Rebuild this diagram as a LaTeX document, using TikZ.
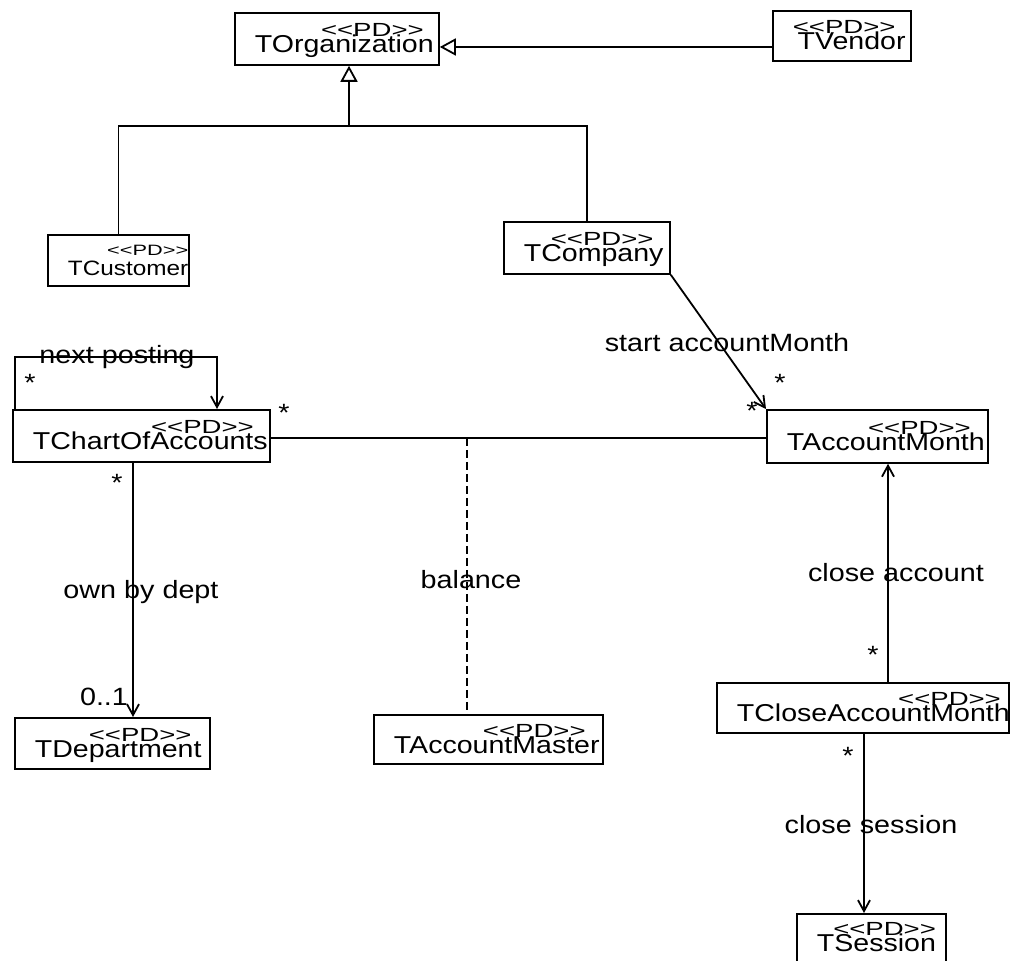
\documentclass[tikz,border=0pt]{standalone}
\usepackage{fontspec}
\setmainfont{Liberation Sans}
\newfontfamily\classfont[FakeStretch=1.17]{Liberation Sans}
\newfontfamily\sterfont[FakeStretch=1.45]{Liberation Sans}
\newfontfamily\labelfont[FakeStretch=1.15]{Liberation Sans}
\usetikzlibrary{arrows.meta}
\newcommand{\pd}[2][5pt]{\begin{tabular}{@{}r@{}}{\sterfont\fontsize{9.5}{11}\selectfont<\kern0pt<PD>\kern0pt>}\kern#1\\[-6.6pt]#2\end{tabular}}

\begin{document}
\begin{tikzpicture}[x=0.5pt,y=-0.5pt,
  pdbox/.style={draw,line width=0.9pt,inner ysep=0pt,inner xsep=10pt,align=left,anchor=north west,font=\classfont\fontsize{12.2}{14.6}\selectfont},
  line/.style={line width=0.9pt},
  nav/.style={line,-{Straight Barb[length=5.5pt,width=6pt]}},
  gen/.style={line,-{Triangle[open,length=8pt,width=8.5pt]}},
  lbl/.style={font=\labelfont\fontsize{12.5}{15}\selectfont,inner sep=0pt},
  mult/.style={lbl,anchor=base}]
\useasboundingbox (0,0) rectangle (1018,961);
%classes
\node[pdbox,text width=82pt,minimum height=26pt] (org) at (234,12) {\pd{TOrganization}};
\node[pdbox,text width=49pt,minimum height=25pt] (vendor) at (772,10) {\pd{TVendor}};
\node[pdbox,text width=50.5pt,minimum height=25.5pt,font=\classfont\fontsize{10.4}{12.5}\selectfont] (cust) at (47,234)
  {\begin{tabular}{@{}r@{}}{\sterfont\fontsize{7.5}{9}\selectfont<\kern0pt<PD>\kern0pt>}\\[-2.5pt]TCustomer\end{tabular}};
\node[pdbox,text width=63pt,minimum height=26pt] (comp) at (503,221) {\pd{TCompany}};
\node[pdbox,text width=108.5pt,minimum height=26pt] (chart) at (12,409) {\pd[7pt]{TChartOfAccounts}};
\node[pdbox,text width=90.5pt,minimum height=26.5pt] (month) at (766,409) {\pd[7pt]{TAccountMonth}};
\node[pdbox,text width=77.5pt,minimum height=25.5pt] (dept) at (14,717) {\pd{TDepartment}};
\node[pdbox,text width=94.5pt,minimum height=24.5pt] (master) at (373,714) {\pd[7pt]{TAccountMaster}};
\node[pdbox,text width=126pt,minimum height=25pt] (close) at (716,682) {\pd[4.5pt]{TCloseAccountMonth}};
\node[pdbox,text width=54.5pt,minimum height=24pt] (session) at (796,913) {\pd[0pt]{TSession}};
%generalization
\coordinate (genrow) at (0,47);
\coordinate (hub) at (349,126);
\draw[gen] (vendor.west |- genrow) -- (org.east |- genrow);
\draw[gen] (hub) -- (hub |- org.south);
\draw[line] (cust.north) |- (hub) -| (comp.north);
%associations
\coordinate (loop) at (217,357);
\coordinate (assoc) at (467,438);
\coordinate (ownx) at (133,0);
\coordinate (closex) at (888,0);
\coordinate (sessx) at (864,0);
\draw[nav] ([xshift=1.5pt]chart.north west) |- (loop) -- (loop |- chart.north);
\draw[nav] (comp.south east) -- (month.north west);
\draw[line] (chart.east |- assoc) -- (month.west |- assoc);
\draw[line,dash pattern=on 4pt off 2pt] (assoc) -- (assoc |- master.north);
\draw[nav] (chart.south -| ownx) -- (dept.north -| ownx);
\draw[nav] (close.north -| closex) -- (month.south -| closex);
\draw[nav] (close.south -| sessx) -- (session.north -| sessx);
%labels
\node[lbl] (nextlbl) at (117,357) {next posting};
\node[lbl] (startlbl) at (727,343) {start accountMonth};
\node[lbl] (ownlbl) at (141,592) {own by dept};
\node[lbl] (ballbl) at (471,580) {balance};
\node[lbl] (closelbl) at (896,573) {close account};
\node[lbl] (sesslbl) at (871,825) {close session};
\node[lbl] (deptmult) at (104,697) {0..1};
\node[mult] (loopmult) at (30,392) {*};
\node[mult] (chartmult) at (284,422) {*};
\node[mult] (ownmult) at (117,492) {*};
\node[mult] (startmult) at (780,392) {*};
\node[mult] (monthmult) at (752,420) {*};
\node[mult] (closemult) at (873,664) {*};
\node[mult] (sessmult) at (848,765) {*};
\end{tikzpicture}
\end{document}
